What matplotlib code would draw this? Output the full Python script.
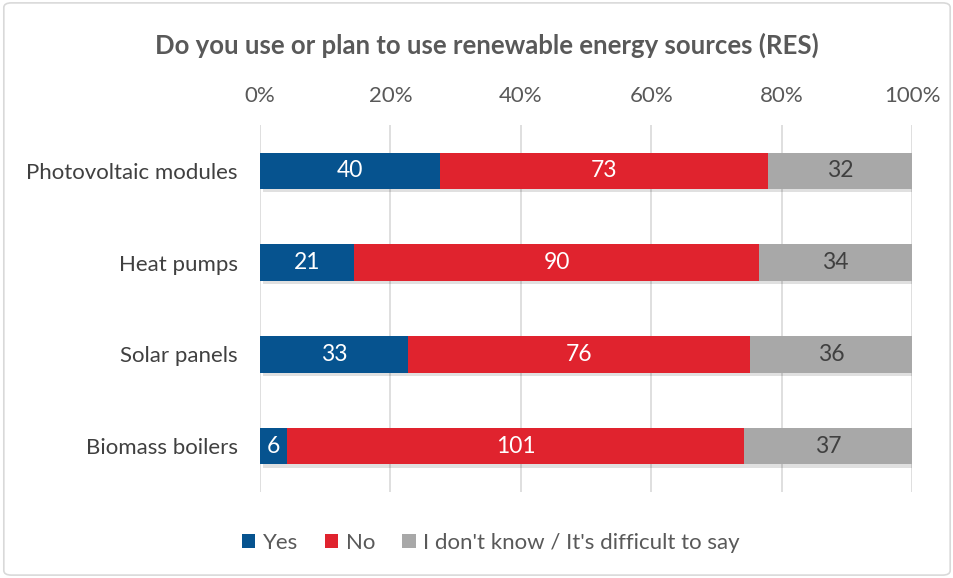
import matplotlib
matplotlib.use("Agg")
import matplotlib.pyplot as plt
from matplotlib.patches import FancyBboxPatch
import numpy as np

categories = ["Photovoltaic modules", "Heat pumps", "Solar panels", "Biomass boilers"]
yes = [40, 21, 33, 6]
no = [73, 90, 76, 101]
dont_know = [32, 34, 36, 37]
series_names = ["Yes", "No", "I don't know / It's difficult to say"]
colors = ["#06538F", "#E0232E", "#A8A8A8"]
label_colors = ["white", "white", "#404040"]
xticks = [0, 0.2, 0.4, 0.6, 0.8, 1.0]
xticklabels = ["0%", "20%", "40%", "60%", "80%", "100%"]
title = "Do you use or plan to use renewable energy sources (RES)"

plt.rcParams['font.family'] = ['Lato', 'DejaVu Sans']

fig = plt.figure(figsize=(9.54, 5.78), dpi=100)
ax = fig.add_axes([260/954, 1-492/578, (912-260)/954, (492-125)/578])

data = np.array([yes, no, dont_know], dtype=float)
totals = data.sum(axis=0)
frac = data / totals
y = np.arange(len(categories))
h = 0.40

# shadow
ax.barh(y + 0.035, np.ones(len(y)), left=0.004, height=h, color="#000000", alpha=0.12, zorder=1)

left = np.zeros(len(categories))
for i, name in enumerate(series_names):
    ax.barh(y, frac[i], left=left, height=h, color=colors[i], label=name, zorder=2)
    for j in range(len(categories)):
        ax.text(left[j] + frac[i][j]/2, y[j], f"{int(data[i][j])}", ha="center", va="center",
                color=label_colors[i], fontsize=16.5, zorder=3)
    left += frac[i]

ax.set_xlim(0, 1)
ax.set_ylim(len(categories) - 0.5, -0.5)
ax.set_yticks(y)
ax.set_yticklabels(categories, fontsize=16, color="#404040")
ax.set_xticks(xticks)
ax.set_xticklabels(xticklabels, fontsize=16, color="#595959")
ax.xaxis.tick_top()
ax.tick_params(axis="x", length=0, pad=14)
ax.tick_params(axis="y", length=0, pad=16)
ax.grid(axis="x", color="#D9D9D9", linewidth=1.2, zorder=0)
ax.set_axisbelow(True)
for s in ax.spines.values():
    s.set_visible(False)

fig.text(487/954, 1-45/578, title, ha="center", va="center", fontsize=18.5,
         fontweight="bold", color="#595959")

fig.legend(loc="center", bbox_to_anchor=(491/954, 1-543/578), ncol=3, frameon=False,
           fontsize=16, handlelength=0.6, handleheight=0.6, handletextpad=0.35,
           columnspacing=1.2, labelcolor="#595959")

border = FancyBboxPatch((0.004, 0.005), 0.992, 0.99, boxstyle="round,pad=0,rounding_size=0.008",
                        transform=fig.transFigure, fill=False, edgecolor="#D9D9D9", linewidth=1.2)
fig.patches.append(border)

fig.savefig("out.png", dpi=100, facecolor="white")
